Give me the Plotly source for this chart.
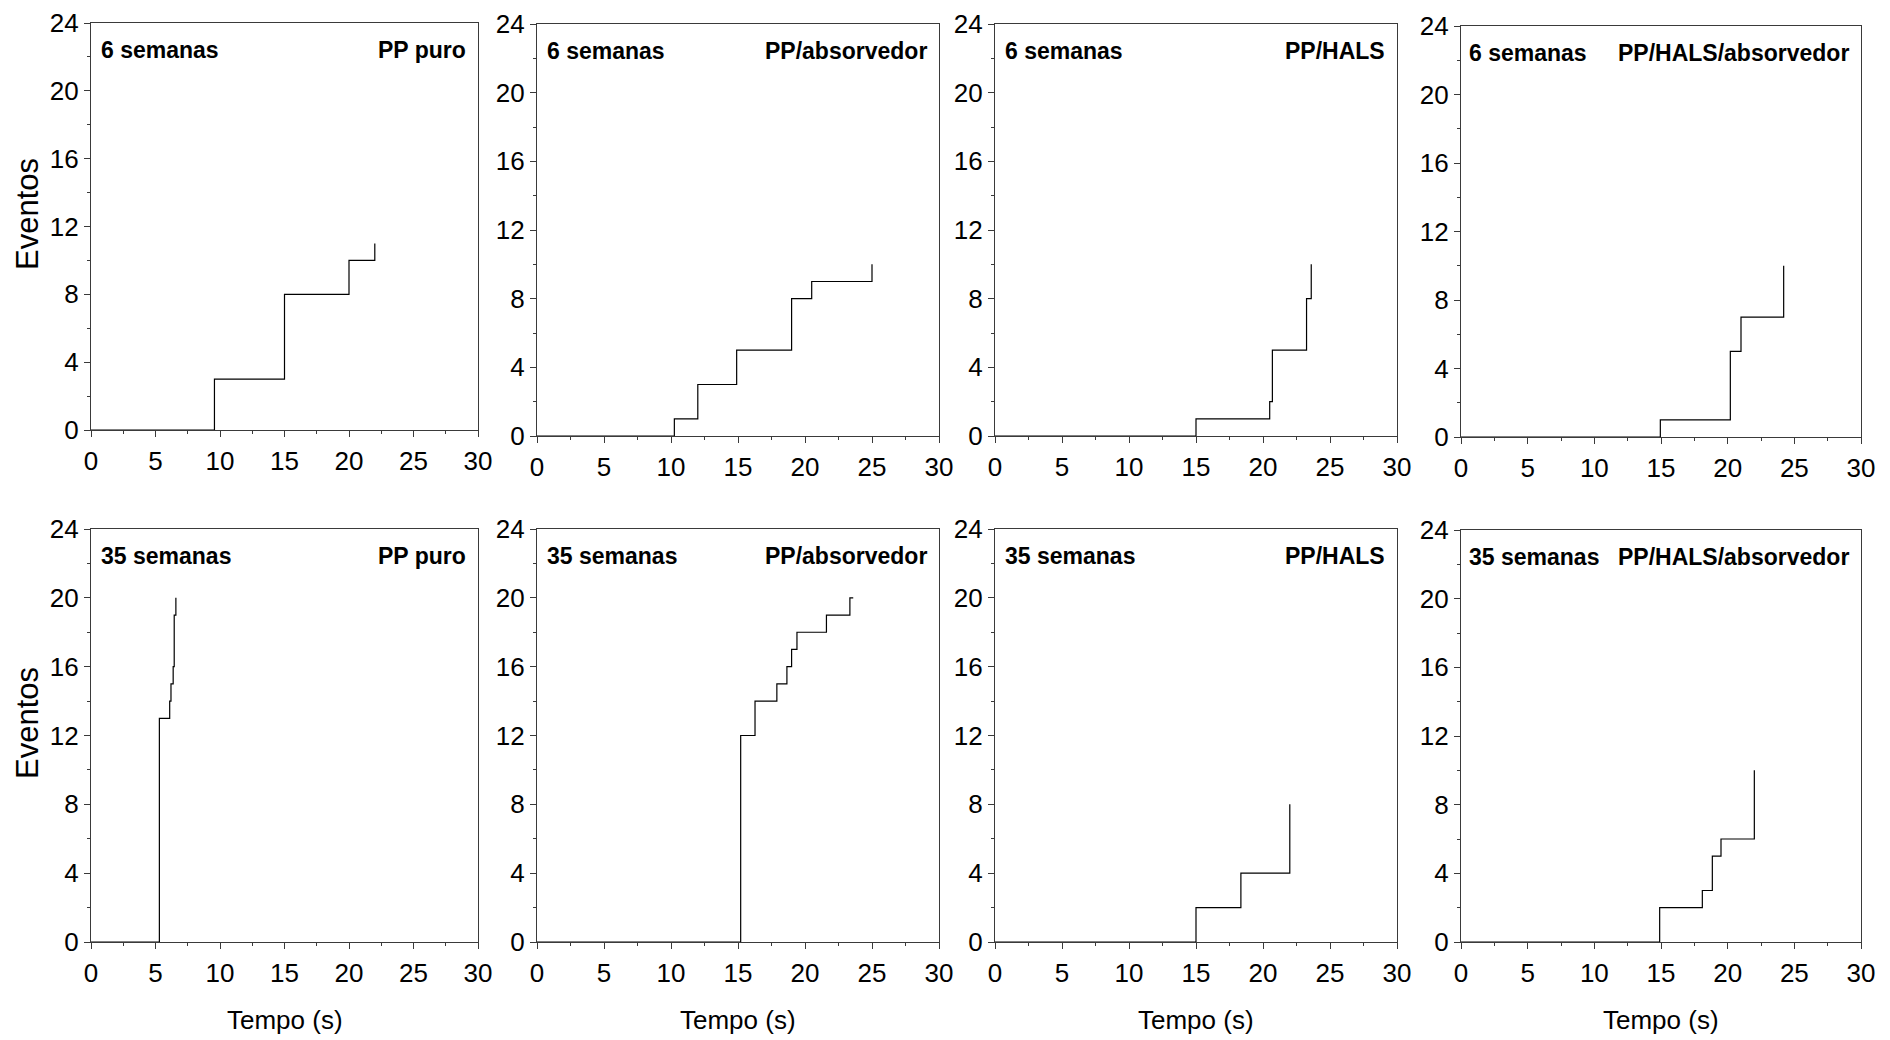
import plotly.graph_objects as go

# Tempos (s) em que o número acumulado de eventos muda, e o total após cada passo
tempo_6sem_puro = [0, 9.57, 15.0, 20.0, 22.0]
eventos_6sem_puro = [0, 3, 8, 10, 11]

tempo_6sem_abs = [0, 10.25, 12.0, 14.9, 19.0, 20.5, 25.0]
eventos_6sem_abs = [0, 1, 3, 5, 8, 9, 10]

tempo_6sem_hals = [0, 15.0, 20.5, 20.7, 23.25, 23.6]
eventos_6sem_hals = [0, 1, 2, 5, 8, 10]

tempo_6sem_hals_abs = [0, 14.95, 20.2, 21.0, 24.2]
eventos_6sem_hals_abs = [0, 1, 5, 7, 10]

tempo_35sem_puro = [0, 5.3, 6.1, 6.2, 6.37, 6.45, 6.58]
eventos_35sem_puro = [0, 13, 14, 15, 16, 19, 20]

tempo_35sem_abs = [0, 15.2, 16.27, 17.9, 18.65, 19.0, 19.4, 21.6, 23.35, 23.6]
eventos_35sem_abs = [0, 12, 14, 15, 16, 17, 18, 19, 20, 20]

tempo_35sem_hals = [0, 15.0, 18.35, 22.0]
eventos_35sem_hals = [0, 2, 4, 8]

tempo_35sem_hals_abs = [0, 14.9, 18.1, 18.85, 19.5, 22.0]
eventos_35sem_hals_abs = [0, 2, 3, 5, 6, 10]

semanas = ["6 semanas", "35 semanas"]
amostras = ["PP puro", "PP/absorvedor", "PP/HALS", "PP/HALS/absorvedor"]

x_ticks = [0, 5, 10, 15, 20, 25, 30]
y_ticks = [0, 4, 8, 12, 16, 20, 24]

series = [
    (tempo_6sem_puro, eventos_6sem_puro),
    (tempo_6sem_abs, eventos_6sem_abs),
    (tempo_6sem_hals, eventos_6sem_hals),
    (tempo_6sem_hals_abs, eventos_6sem_hals_abs),
    (tempo_35sem_puro, eventos_35sem_puro),
    (tempo_35sem_abs, eventos_35sem_abs),
    (tempo_35sem_hals, eventos_35sem_hals),
    (tempo_35sem_hals_abs, eventos_35sem_hals_abs),
]

W, H = 1890, 1040
# caixa de cada painel em pixels: esquerda, direita, topo, base
boxes = [
    (91, 478, 23, 430),
    (537, 939, 24, 436),
    (995, 1397, 24, 436),
    (1461, 1861, 26, 437),
    (91, 478, 529, 942),
    (537, 939, 529, 942),
    (995, 1397, 529, 942),
    (1461, 1861, 530, 942),
]

FONT = "Liberation Sans, Arial, sans-serif"
AX_COLOR = "#3a3a3a"

fig = go.Figure()
annotations = []

for i, ((xs, ys), (l, r, t, b)) in enumerate(zip(series, boxes)):
    n = "" if i == 0 else str(i + 1)
    fig.add_trace(go.Scatter(
        x=xs, y=ys, mode="lines", line=dict(shape="hv", color="black", width=1.2),
        xaxis="x" + n, yaxis="y" + n, showlegend=False, hoverinfo="x+y",
    ))
    common = dict(
        showline=True, linecolor=AX_COLOR, linewidth=1.3, mirror=True,
        ticks="outside", tickcolor=AX_COLOR, tickwidth=1.3, ticklen=6,
        showgrid=False, zeroline=False, automargin=False,
        tickfont=dict(family=FONT, size=26, color="black"),
    )
    fig.layout["xaxis" + n] = dict(
        common, domain=[l / W, r / W], anchor="y" + n, range=[0, 30],
        tickvals=x_ticks, ticktext=[str(v) for v in x_ticks], ticklabelstandoff=2,
        minor=dict(ticks="outside", ticklen=3, dtick=2.5, tick0=0, tickcolor=AX_COLOR, tickwidth=1),
    )
    fig.layout["yaxis" + n] = dict(
        common, domain=[1 - b / H, 1 - t / H], anchor="x" + n, range=[0, 24],
        tickvals=y_ticks, ticktext=[str(v) for v in y_ticks],
        minor=dict(ticks="outside", ticklen=3, dtick=2, tick0=0, tickcolor=AX_COLOR, tickwidth=1),
    )
    row, col = divmod(i, 4)
    lab_y = 1 - (t + 27) / H
    annotations.append(dict(
        text="<b>%s</b>" % semanas[row], x=(l + (6 if col == 3 else 8)) / W, y=lab_y,
        xref="paper", yref="paper", xanchor="left", yanchor="middle", showarrow=False,
        font=dict(family=FONT, size=23, color="black"),
    ))
    annotations.append(dict(
        text="<b>%s</b>" % amostras[col], x=(r - 10) / W, y=lab_y,
        xref="paper", yref="paper", xanchor="right", yanchor="middle", showarrow=False,
        font=dict(family=FONT, size=23, color="black"),
    ))
    if col == 0:
        annotations.append(dict(
            text="Eventos", x=27.5 / W, y=1 - ((t + b) / 2 - 12) / H,
            xref="paper", yref="paper", xanchor="center", yanchor="middle",
            textangle=-90, showarrow=False,
            font=dict(family=FONT, size=31, color="black"),
        ))
    if row == 1:
        annotations.append(dict(
            text="Tempo (s)", x=((l + r) / 2) / W, y=1 - 1020 / H,
            xref="paper", yref="paper", xanchor="center", yanchor="middle", showarrow=False,
            font=dict(family=FONT, size=26, color="black"),
        ))

fig.update_layout(
    template="none",
    width=W, height=H, margin=dict(l=0, r=0, t=0, b=0, pad=0),
    paper_bgcolor="white", plot_bgcolor="white",
    annotations=annotations,
)

fig.write_html("out.html")
